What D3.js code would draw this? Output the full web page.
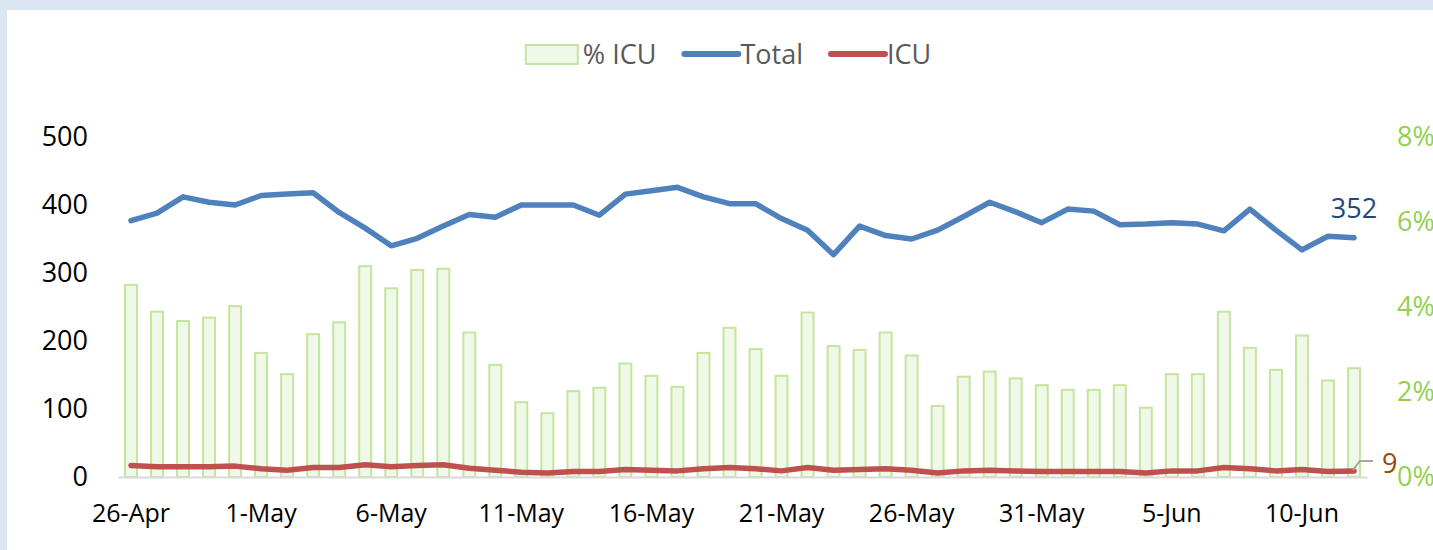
<!DOCTYPE html>
<html>
<head>
<meta charset="utf-8">
<script src="https://cdn.jsdelivr.net/npm/d3@7"></script>
<style>
  body { margin: 0; background: #dce6f2; overflow: hidden; }
  svg { display: block; font-family: "Open Sans", "Noto Sans", sans-serif; }
</style>
</head>
<body>
<div id="chart"></div>
<script>
// daily dates, 26-Apr .. 12-Jun
const dates = ["26-Apr","27-Apr","28-Apr","29-Apr","30-Apr","1-May","2-May","3-May","4-May","5-May",
  "6-May","7-May","8-May","9-May","10-May","11-May","12-May","13-May","14-May","15-May",
  "16-May","17-May","18-May","19-May","20-May","21-May","22-May","23-May","24-May","25-May",
  "26-May","27-May","28-May","29-May","30-May","31-May","1-Jun","2-Jun","3-Jun","4-Jun",
  "5-Jun","6-Jun","7-Jun","8-Jun","9-Jun","10-Jun","11-Jun","12-Jun"];

// total patients
const total = [377,388,412,404,400,414,416,418,389,366,
  340,351,369,386,382,400,400,400,385,416,
  421,426,412,402,402,380,363,327,369,355,
  350,363,383,404,390,374,394,391,371,372,
  374,372,362,394,363,334,354,352];

// patients in ICU
const icu = [17,15,15,15,16,12,10,14,14,18,
  15,17,18,13,10,7,6,8,8,11,
  10,9,12,14,12,9,14,10,11,12,
  10,6,9,10,9,8,8,8,8,6,
  9,9,14,12,9,11,8,9];

// share in ICU (right axis)
const pctIcu = [0.0452,0.0389,0.0367,0.0375,0.0402,0.0292,0.0242,0.0336,0.0364,0.0496,
  0.0444,0.0487,0.0490,0.0340,0.0264,0.0176,0.0150,0.0202,0.0210,0.0267,
  0.0238,0.0212,0.0292,0.0351,0.0301,0.0238,0.0387,0.0308,0.0299,0.0340,
  0.0286,0.0167,0.0236,0.0248,0.0232,0.0216,0.0205,0.0205,0.0216,0.0163,
  0.0242,0.0242,0.0389,0.0304,0.0252,0.0333,0.0227,0.0256];

const xTickLabels = ["26-Apr","1-May","6-May","11-May","16-May","21-May","26-May","31-May","5-Jun","10-Jun"];
const leftTicks = [0,100,200,300,400,500];
const rightTicks = [0,0.02,0.04,0.06,0.08];

const W = 1433, H = 550;
const plot = { left: 118, right: 1367, top: 137, bottom: 477 };

const svg = d3.select("#chart").append("svg")
  .attr("width", W)
  .attr("height", H);

// white chart area
svg.append("rect")
  .attr("x", 7).attr("y", 10)
  .attr("width", W).attr("height", H)
  .attr("fill", "#ffffff");

const x = d3.scaleBand()
  .domain(dates)
  .range([plot.left, plot.right])
  .paddingInner(0.54)
  .paddingOuter(0.27);

const yLeft = d3.scaleLinear().domain([0, 500]).range([plot.bottom, plot.top]);
const yRight = d3.scaleLinear().domain([0, 0.08]).range([plot.bottom, plot.top]);

const cx = d => x(d) + x.bandwidth() / 2;

// bars: % ICU
svg.append("g")
  .selectAll("rect")
  .data(dates)
  .enter()
  .append("rect")
  .attr("x", d => x(d))
  .attr("y", (d, i) => yRight(pctIcu[i]))
  .attr("width", x.bandwidth())
  .attr("height", (d, i) => plot.bottom - yRight(pctIcu[i]))
  .attr("fill", "#f0f8e7")
  .attr("stroke", "#c4e59f")
  .attr("stroke-width", 2);

// x axis
const xAxis = svg.append("g")
  .attr("transform", "translate(0," + plot.bottom + ")")
  .call(d3.axisBottom(x).tickValues(xTickLabels).tickSize(0).tickSizeOuter(0).tickPadding(27));
xAxis.select(".domain").attr("stroke", "#d9d9d9").attr("stroke-width", 2);
xAxis.selectAll("text")
  .attr("font-size", "25px")
  .attr("font-family", "Open Sans")
  .attr("fill", "#000");

// left axis
const yAxisL = svg.append("g")
  .attr("transform", "translate(" + plot.left + ",0)")
  .call(d3.axisLeft(yLeft).tickValues(leftTicks).tickSize(0).tickPadding(30));
yAxisL.select(".domain").remove();
yAxisL.selectAll("text")
  .attr("font-size", "27px")
  .attr("font-family", "Open Sans")
  .attr("fill", "#000");

// right axis
const yAxisR = svg.append("g")
  .attr("transform", "translate(" + plot.right + ",0)")
  .call(d3.axisRight(yRight).tickValues(rightTicks).tickSize(0).tickPadding(30).tickFormat(d3.format(".0%")));
yAxisR.select(".domain").remove();
yAxisR.selectAll("text")
  .attr("font-size", "27px")
  .attr("font-family", "Open Sans")
  .attr("fill", "#92d050");

// lines
const lineTotal = d3.line().x(cx).y((d, i) => yLeft(total[i]));
const lineIcu = d3.line().x(cx).y((d, i) => yLeft(icu[i]));

svg.append("path")
  .datum(dates)
  .attr("d", lineIcu)
  .attr("fill", "none")
  .attr("stroke", "#c0504d")
  .attr("stroke-width", 5.5)
  .attr("stroke-linejoin", "round")
  .attr("stroke-linecap", "round");

svg.append("path")
  .datum(dates)
  .attr("d", lineTotal)
  .attr("fill", "none")
  .attr("stroke", "#4f81bd")
  .attr("stroke-width", 5.5)
  .attr("stroke-linejoin", "round")
  .attr("stroke-linecap", "round");

// end labels
const last = dates.length - 1;
const lx = cx(dates[last]);

svg.append("text")
  .attr("x", lx)
  .attr("y", yLeft(total[last]) - 20)
  .attr("text-anchor", "middle")
  .attr("font-size", "27px")
  .attr("fill", "#1f497d")
  .text(total[last]);

const iy = yLeft(icu[last]);
svg.append("path")
  .attr("d", "M" + (lx - 1) + "," + (iy - 1) + " L" + (lx + 6) + "," + (iy - 10) + " L" + (lx + 19) + "," + (iy - 10))
  .attr("fill", "none")
  .attr("stroke", "#a6a6a6")
  .attr("stroke-width", 2);

svg.append("text")
  .attr("x", lx + 28)
  .attr("y", iy + 2)
  .attr("font-size", "27px")
  .attr("fill", "#984807")
  .text(icu[last]);

// legend
const legendItems = [
  { name: "% ICU", type: "bar" },
  { name: "Total", type: "line", color: "#4f81bd" },
  { name: "ICU", type: "line", color: "#c0504d" }
];
const legend = svg.append("g");
let lxPos = 0;
legendItems.forEach((item, i) => {
  const g = legend.append("g").attr("transform", "translate(" + lxPos + ",0)");
  if (item.type === "bar") {
    g.append("rect")
      .attr("x", 1).attr("y", -9)
      .attr("width", 52).attr("height", 19)
      .attr("fill", "#f0f8e7")
      .attr("stroke", "#c4e59f")
      .attr("stroke-width", 2);
  } else {
    g.append("line")
      .attr("x1", 2).attr("x2", 56)
      .attr("y1", 0).attr("y2", 0)
      .attr("stroke", item.color)
      .attr("stroke-width", 6)
      .attr("stroke-linecap", "round");
  }
  const t = g.append("text")
    .attr("x", 58)
    .attr("y", 10)
    .attr("font-size", "27px")
    .attr("fill", "#595959")
    .text(item.name);
  lxPos += 58 + t.node().getComputedTextLength() + 26;
});
const legendWidth = lxPos - 26;
legend.attr("transform", "translate(" + (728 - legendWidth / 2) + ",54)");
</script>
</body>
</html>
